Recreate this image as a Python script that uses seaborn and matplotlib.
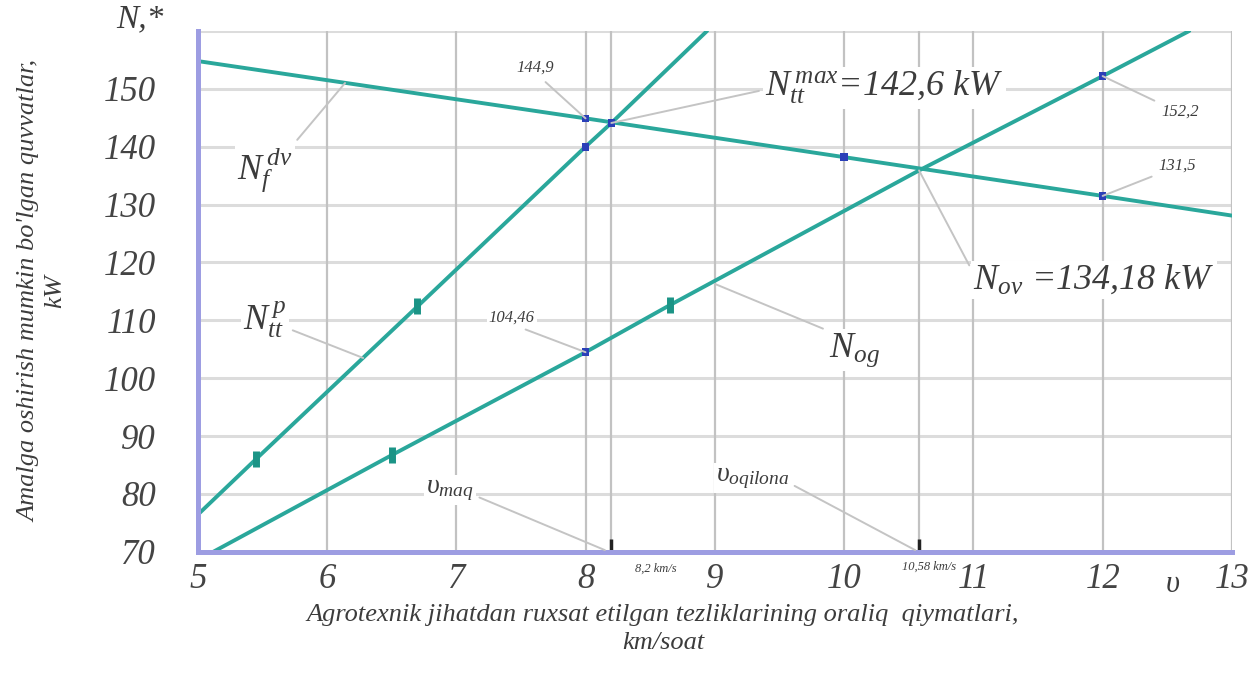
import numpy as np
import pandas as pd
import matplotlib
matplotlib.use("Agg")
import matplotlib.pyplot as plt
import seaborn as sns

# speeds (km/soat) and powers (kW)
v_ntt = [5.0, 5.45, 6.7, 8.0, 8.2, 8.94]
n_ntt = [76.4, 86.0, 112.4, 140.0, 144.1, 160.0]

v_nf = [5.0, 8.0, 10.0, 12.0, 13.0]
n_nf = [154.8, 144.9, 138.2, 131.5, 128.1]

v_nog = [5.12, 6.5, 8.0, 8.65, 10.58, 12.0, 12.67]
n_nog = [70.0, 86.7, 104.5, 112.6, 135.9, 152.2, 160.0]

# dark blue points on the lines
pt_v = [8.0, 8.0, 8.2, 10.0, 12.0, 12.0, 8.0]
pt_n = [144.9, 140.0, 144.1, 138.2, 152.2, 131.5, 104.5]

# small bar marks on the rising lines
bar_v = [5.45, 6.7, 6.5, 8.65]
bar_n = [86.0, 112.4, 86.7, 112.6]

v_maq = 8.2
v_opt = 10.58

x_ticks = [5, 6, 7, 8, 9, 10, 11, 12, 13]
y_ticks = [70, 80, 90, 100, 110, 120, 130, 140, 150]

sns.set_theme(style="white")
plt.rcParams['font.family'] = ['Liberation Serif', 'DejaVu Serif']
plt.rcParams['font.style'] = 'italic'
plt.rcParams['mathtext.fontset'] = 'custom'
plt.rcParams['mathtext.it'] = 'Liberation Serif:italic'
plt.rcParams['mathtext.rm'] = 'Liberation Serif:italic'

teal = "#2aa79b"
txt = "#3c3c3c"
lead_c = "#c4c4c4"

fig = plt.figure(figsize=(12.59, 6.73), dpi=100)
ax = fig.add_axes([0.157, 0.18, 0.8215, 0.774])

# grid
for y in y_ticks + [160]:
    ax.axhline(y, color="#dcdcdc", lw=2.2, zorder=0)
for x in x_ticks + [v_maq, v_opt]:
    ax.axvline(x, color="#c2c2c2", lw=1.6, zorder=0)

sns.lineplot(x=v_nf, y=n_nf, ax=ax, color=teal, lw=2.8, sort=False, zorder=3)
sns.lineplot(x=v_ntt, y=n_ntt, ax=ax, color=teal, lw=2.8, sort=False, zorder=3)
sns.lineplot(x=v_nog, y=n_nog, ax=ax, color=teal, lw=2.8, sort=False, zorder=3)

ax.plot(bar_v, bar_n, ls="none", marker="|", ms=11, mew=5, color="#1b9486", zorder=4)
sns.scatterplot(x=pt_v, y=pt_n, ax=ax, marker="s", s=30, color="#2a3fb8",
                edgecolor="none", zorder=5)

ax.vlines([v_maq, v_opt], 70, 72.2, color="#222222", lw=2.5, zorder=5)

ax.set_xlim(5, 13)
ax.set_ylim(70, 160)
ax.set_xticks(x_ticks)
ax.set_yticks(y_ticks)
ax.tick_params(axis="both", length=0, labelsize=25, labelcolor="#444444")
ax.tick_params(axis="y", pad=30)
ax.tick_params(axis="x", pad=8)

for s in ["top", "right"]:
    ax.spines[s].set_visible(False)
for s in ["left", "bottom"]:
    ax.spines[s].set_color("#9d9de2")
    ax.spines[s].set_linewidth(3.6)
    ax.spines[s].set_zorder(6)

ax.set_xlabel("Agrotexnik jihatdan ruxsat etilgan tezliklarining oraliq  qiymatlari,\nkm/soat",
              fontsize=19, color=txt, linespacing=1.35)
ax.xaxis.set_label_coords(0.45, -0.1)
ax.xaxis.label.set_va("top")
ax.set_ylabel("Amalga oshirish mumkin bo'lgan quvvatlar,\nkW",
              fontsize=19, color=txt, linespacing=1.25)
ax.yaxis.set_label_coords(-0.127, 0.5)


def lead(text, xy, xytext, size, ha="center", rel=(0.5, 0.5), bg=False):
    kw = {}
    if bg:
        kw["bbox"] = dict(fc="white", ec="none", pad=1.5)
    ax.annotate(text, xy=xy, xytext=xytext, fontsize=size, ha=ha, va="center",
                color=txt, zorder=7,
                arrowprops=dict(arrowstyle="-", color=lead_c, lw=1.4,
                                relpos=rel, shrinkA=3, shrinkB=0), **kw)


lead(r"$N_f^{\,dv}$", (6.14, 151.0), (5.52, 136.0), 26, rel=(1, 1), bg=True)
lead("144,9", (8.0, 144.9), (7.61, 153.6), 12, rel=(0.6, 0))
lead(r"$N_{tt}^{\,max}$=142,6 kW", (8.2, 144.1), (9.39, 150.2), 26, ha="left",
     rel=(0, 0.45), bg=True)
lead("152,2", (12.0, 152.2), (12.6, 146.0), 12, rel=(0, 1))
lead("131,5", (12.0, 131.5), (12.58, 136.7), 12, rel=(0, 0))
lead(r"$N_{ov}$ =134,18 kW", (10.58, 135.9), (11.0, 117.0), 26, ha="left",
     rel=(0, 0.7), bg=True)
lead(r"$N_{tt}^{\,p}$", (6.28, 103.5), (5.52, 110.1), 26, rel=(1, 0.3), bg=True)
lead("104,46", (8.0, 104.5), (7.43, 110.4), 12, rel=(0.6, 0), bg=True)
lead(r"$N_{og}$", (9.0, 116.3), (10.08, 104.9), 26, rel=(0, 1), bg=True)
lead(r"$\upsilon_{maq}$", (8.15, 70.3), (6.95, 80.7), 20, rel=(1, 0.3), bg=True)
lead(r"$\upsilon_{oqilona}$", (10.55, 70.3), (9.29, 82.8), 20, rel=(1, 0.3), bg=True)

ax.text(8.54, 67.0, "8,2 km/s", fontsize=9, color=txt, ha="center", va="center")
ax.text(10.66, 67.5, "10,58 km/s", fontsize=9, color=txt, ha="center", va="center")
ax.text(12.54, 64.3, r"$\upsilon$", fontsize=22, color=txt, ha="center", va="center")
fig.text(0.111, 0.972, "N,*", fontsize=24, color=txt, ha="center", va="center")

fig.savefig("out.png", dpi=100)
